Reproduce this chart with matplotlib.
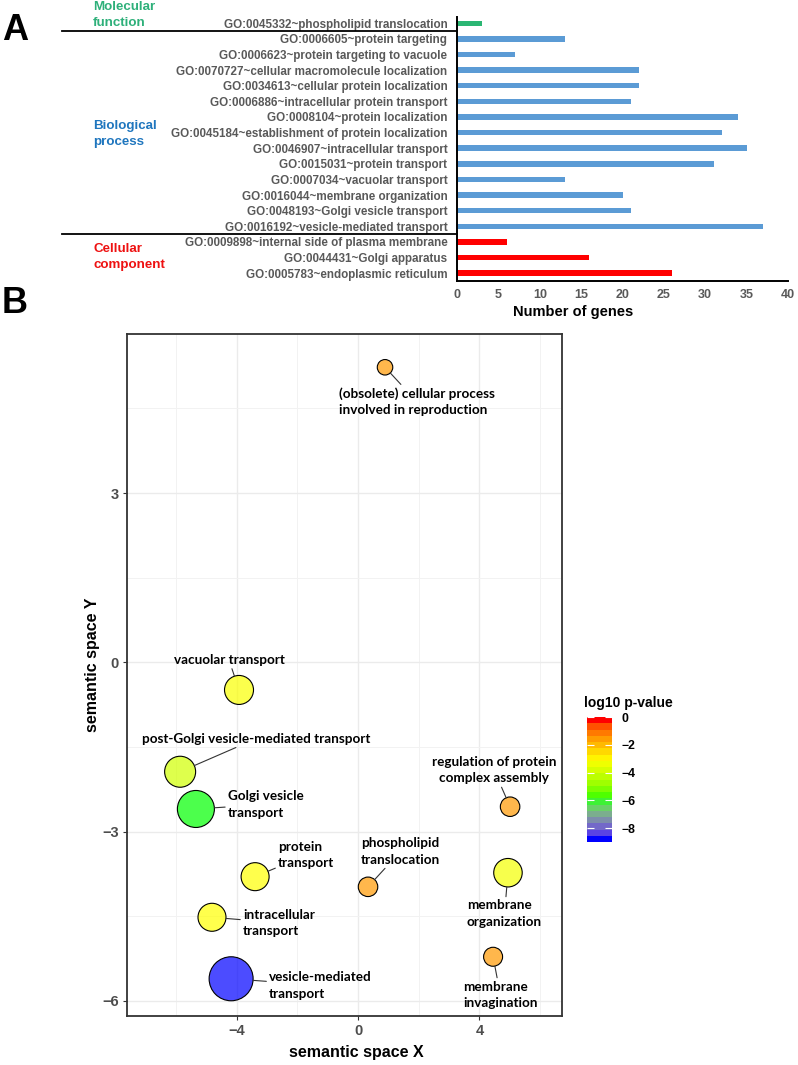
import numpy as np
import matplotlib
matplotlib.use("Agg")
import matplotlib.pyplot as plt
from matplotlib.colors import ListedColormap, Normalize
from matplotlib.cm import ScalarMappable
import matplotlib.transforms as mtransforms

plt.rcParams['font.family'] = ['Liberation Sans', 'DejaVu Sans']

# ---------------- Panel A data ----------------
go_terms = [
    "GO:0045332~phospholipid translocation",
    "GO:0006605~protein targeting",
    "GO:0006623~protein targeting to vacuole",
    "GO:0070727~cellular macromolecule localization",
    "GO:0034613~cellular protein localization",
    "GO:0006886~intracellular protein transport",
    "GO:0008104~protein localization",
    "GO:0045184~establishment of protein localization",
    "GO:0046907~intracellular transport",
    "GO:0015031~protein transport",
    "GO:0007034~vacuolar transport",
    "GO:0016044~membrane organization",
    "GO:0048193~Golgi vesicle transport",
    "GO:0016192~vesicle-mediated transport",
    "GO:0009898~internal side of plasma membrane",
    "GO:0044431~Golgi apparatus",
    "GO:0005783~endoplasmic reticulum",
]
gene_counts = [3, 13, 7, 22, 22, 21, 34, 32, 35, 31, 13, 20, 21, 37, 6, 16, 26]
go_category = ["MF"] + ["BP"] * 13 + ["CC"] * 3
category_names = {"MF": "Molecular\nfunction", "BP": "Biological\nprocess", "CC": "Cellular\ncomponent"}
bar_colors = {"MF": "#2BB673", "BP": "#5B9BD5", "CC": "#FF0000"}
label_colors = {"MF": "#2EB07A", "BP": "#1F76BE", "CC": "#EE1111"}
x_ticks_a = [0, 5, 10, 15, 20, 25, 30, 35, 40]

# ---------------- Panel B data ----------------
terms = [
    "(obsolete) cellular process\ninvolved in reproduction",
    "vacuolar transport",
    "post-Golgi vesicle-mediated transport",
    "Golgi vesicle\ntransport",
    "regulation of protein\ncomplex assembly",
    "protein\ntransport",
    "phospholipid\ntranslocation",
    "membrane\norganization",
    "intracellular\ntransport",
    "membrane\ninvagination",
    "vesicle-mediated\ntransport",
]
sem_x = [0.89, -3.92, -5.86, -5.34, 5.01, -3.39, 0.33, 4.94, -4.81, 4.45, -4.18]
sem_y = [5.23, -0.49, -1.94, -2.60, -2.56, -3.80, -3.98, -3.73, -4.52, -5.22, -5.61]
log10_p = [-1.4, -3.1, -3.9, -6.0, -1.4, -3.0, -1.4, -3.2, -3.0, -1.4, -9.0]
bubble_diam = [15.5, 29, 31, 37, 19.5, 28, 19.5, 28.5, 28, 19, 44]  # px
# label placement (offset from point in px, horizontal alignment)
label_dx = [-46, -10, 76, 32, -16, 23, -7, -41, 31, -30, 38]
label_dy = [-34.5, 30, 33, 4.5, 36.5, 21.5, 35.5, -41, -5.5, -38, -6.5]
label_ha = ["left", "center", "center", "left", "center", "left", "left", "left", "left", "left", "left"]
cbar_ticks = [0, -2, -4, -6, -8]

DPI = 100
fig = plt.figure(figsize=(7.98, 10.65), dpi=DPI)
W, H = 798, 1065


def fx(px):
    return px / W


def fy(py):
    return 1 - py / H


# ================= Panel A =================
ax1 = fig.add_axes([fx(457), fy(281), (788 - 457) / W, (281 - 17) / H])
ypos = np.arange(len(go_terms))
ax1.barh(ypos, gene_counts, height=0.35, color=[bar_colors[c] for c in go_category], zorder=2)
ax1.set_ylim(16.5, -0.4)
ax1.set_xlim(0, 40)
ax1.set_yticks(ypos)
ax1.set_yticklabels(go_terms, fontsize=8.4, fontweight='bold', color='#595959')
ax1.set_xticks(x_ticks_a)
ax1.set_xticklabels([str(t) for t in x_ticks_a], fontsize=9, fontweight='bold', color='#595959')
ax1.tick_params(axis='y', length=0, pad=7)
ax1.tick_params(axis='x', length=0, pad=6)
for s in ['top', 'right']:
    ax1.spines[s].set_visible(False)
for s in ['left', 'bottom']:
    ax1.spines[s].set_linewidth(1.4)
    ax1.spines[s].set_color('black')
ax1.set_xlabel("Number of genes", fontsize=10.5, fontweight='bold', color='black')
ax1.xaxis.set_label_coords(0.35, -0.118)
ax1.xaxis.label.set_va('center')

# separator lines between categories
trans = mtransforms.blended_transform_factory(ax1.transAxes, ax1.transData)
cats = np.array(go_category)
for i in range(1, len(cats)):
    if cats[i] != cats[i - 1]:
        ax1.plot([(62 - 457) / 331, 0], [i - 0.5, i - 0.5], color='black', lw=1.3,
                 transform=trans, clip_on=False)

# category group labels
group_y = {"MF": 15, "BP": 134, "CC": 257}
for c in ["MF", "BP", "CC"]:
    fig.text(fx(93), fy(group_y[c]), category_names[c], ha='left', va='center',
             fontsize=9.6, fontweight='bold', color=label_colors[c], linespacing=1.42)

fig.text(fx(15), fy(30), "A", ha='center', va='center', fontsize=26, fontweight='bold')
fig.text(fx(15), fy(303), "B", ha='center', va='center', fontsize=26, fontweight='bold')


# ================= Panel B =================
M = np.array([[0.4124564, 0.3575761, 0.1804375],
              [0.2126729, 0.7151522, 0.0721750],
              [0.0193339, 0.1191920, 0.9503041]])
WHITE = np.array([0.95047, 1.0, 1.08883])
DL = 6 / 29


def srgb_to_lab(rgb):
    rgb = np.asarray(rgb, float)
    lin = np.where(rgb <= 0.04045, rgb / 12.92, ((rgb + 0.055) / 1.055) ** 2.4)
    t = (lin @ M.T) / WHITE
    f = np.where(t > DL ** 3, np.cbrt(t), t / (3 * DL * DL) + 4 / 29)
    return np.stack([116 * f[..., 1] - 16, 500 * (f[..., 0] - f[..., 1]),
                     200 * (f[..., 1] - f[..., 2])], -1)


def lab_to_srgb(lab):
    fy_ = (lab[..., 0] + 16) / 116
    fx_ = fy_ + lab[..., 1] / 500
    fz_ = fy_ - lab[..., 2] / 200

    def finv(f):
        return np.where(f > DL, f ** 3, 3 * DL * DL * (f - 4 / 29))
    xyz = np.stack([finv(fx_), finv(fy_), finv(fz_)], -1) * WHITE
    lin = np.clip(xyz @ np.linalg.inv(M).T, 0, 1)
    srgb = np.where(lin <= 0.0031308, 12.92 * lin, 1.055 * lin ** (1 / 2.4) - 0.055)
    return np.clip(srgb, 0, 1)


anchors = np.array([[0, 0, 1], [0, 1, 0], [1, 1, 0], [1, 0, 0]], float)
anchor_lab = srgb_to_lab(anchors)
tt = np.linspace(0, 1, 256)
pos = np.linspace(0, 1, len(anchors))
lab_ramp = np.stack([np.interp(tt, pos, anchor_lab[:, k]) for k in range(3)], -1)
cmap = ListedColormap(lab_to_srgb(lab_ramp))
norm = Normalize(vmin=min(log10_p), vmax=0)

ax2 = fig.add_axes([fx(127), fy(1016), (562 - 127) / W, (1016 - 334) / H])
ax2.set_xlim(-7.61, 6.72)
ax2.set_ylim(-6.27, 5.82)
ax2.set_xticks([-4, 0, 4])
ax2.set_xticks([-6, -2, 2, 6], minor=True)
ax2.set_yticks([-6, -3, 0, 3])
ax2.set_yticks([-4.5, -1.5, 1.5, 4.5], minor=True)
ax2.grid(True, which='major', color='#EBEBEB', lw=1.0, zorder=0)
ax2.grid(True, which='minor', color='#F2F2F2', lw=0.7, zorder=0)
ax2.set_axisbelow(True)
ax2.tick_params(which='major', length=3, color='#333333', width=0.8, labelsize=10.5,
                labelcolor='#4D4D4D', pad=3)
ax2.tick_params(which='minor', length=0)
for lab in ax2.get_xticklabels() + ax2.get_yticklabels():
    lab.set_fontweight('bold')
for s in ax2.spines.values():
    s.set_color('#333333')
    s.set_linewidth(1.3)

face = cmap(norm(np.array(log10_p)))
face[:, 3] = 0.7
sizes = (np.array(bubble_diam) * 72 / DPI) ** 2
ax2.scatter(sem_x, sem_y, s=sizes, c=face, edgecolors='black', linewidths=0.8, zorder=3)

for i, t in enumerate(terms):
    r_pt = bubble_diam[i] / 2 * 72 / DPI
    ax2.annotate(t, xy=(sem_x[i], sem_y[i]),
                 xytext=(label_dx[i] * 72 / DPI, label_dy[i] * 72 / DPI),
                 textcoords='offset points', ha=label_ha[i], va='center',
                 multialignment='left' if label_ha[i] == 'left' else 'center',
                 fontsize=9.7, fontweight='bold', family=['Lato', 'DejaVu Sans'],
                 color='black', linespacing=1.45, zorder=4,
                 arrowprops=dict(arrowstyle='-', color='#333333', lw=0.8,
                                 shrinkA=0, shrinkB=r_pt))

ax2.set_xlabel("semantic space X", fontsize=11.5, fontweight='bold', color='black')
ax2.xaxis.set_label_coords((356 - 127) / 435, -(1052 - 1016) / 682)
ax2.xaxis.label.set_va('center')
ax2.set_ylabel("semantic space Y", fontsize=11.5, fontweight='bold', color='black')
ax2.yaxis.set_label_coords((92 - 127) / 435, (1016 - 665) / 682)
ax2.yaxis.label.set_va('center')

# colorbar
cax = fig.add_axes([fx(587), fy(842), 25 / W, 125 / H])
sm = ScalarMappable(norm=norm, cmap=cmap.resampled(20))
cb = fig.colorbar(sm, cax=cax, ticks=cbar_ticks)
cb.outline.set_visible(False)
cax.tick_params(direction='in', color='white', length=5, width=0.8, left=True, right=True,
                labelsize=8.8, pad=7)
for lab in cax.get_yticklabels():
    lab.set_fontweight('bold')
fig.text(fx(584), fy(703), "log10 p-value", ha='left', va='center', fontsize=10, fontweight='bold')

fig.savefig("out.png", dpi=DPI)
